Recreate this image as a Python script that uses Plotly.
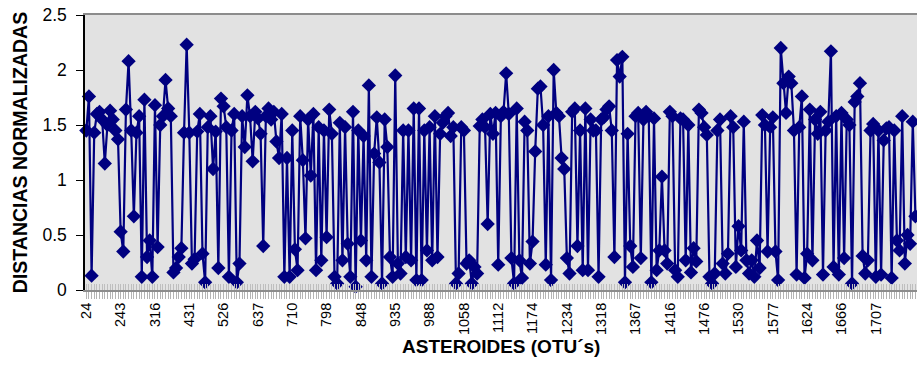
import plotly.graph_objects as go

# ---- data -------------------------------------------------------------
tick_labels = ["24", "243", "316", "431", "526", "637", "710", "798", "848",
               "935", "988", "1058", "1112", "1174", "1234", "1318", "1367",
               "1416", "1476", "1530", "1577", "1624", "1666", "1707"]
label_step = 13  # one label every 13 asteroids

seg1 = [1.45, 1.76, 0.13, 1.43, 1.6, 1.62, 1.55, 1.15, 1.5, 1.63, 1.55, 1.45, 1.37,
        0.53, 0.35, 1.64, 2.08, 1.45, 0.67, 1.43, 1.58, 0.12, 1.73, 0.3, 0.45, 0.12,
        1.68, 0.39, 1.5, 1.58, 1.91, 1.65, 1.58, 0.16, 0.2, 0.3, 0.38, 1.43, 2.23,
        1.43, 0.24, 0.28, 1.44, 1.6, 0.33, 0.07, 1.48, 1.58, 1.1, 1.44, 0.2, 1.74,
        1.67, 1.48, 0.12, 1.45, 1.6, 0.07, 0.24, 1.58, 1.3, 1.77, 1.58, 1.17]
seg2 = [1.62, 1.56, 1.42, 0.40, 1.58, 1.65, 1.55, 1.62, 1.35, 1.2, 1.6, 0.12, 1.2,
        0.12, 1.45, 0.37, 0.18, 1.58, 1.18, 0.47, 1.55, 1.04, 1.6, 0.18, 1.48, 0.27,
        1.45, 0.48, 1.64, 1.42, 0.12, 0.06, 1.52, 0.27, 1.48, 0.42, 0.12, 1.62, 0.03,
        1.45, 0.45, 1.4, 0.27, 1.86, 0.12, 1.24, 1.57, 1.16, 0.06, 1.55, 1.3, 0.3,
        0.12, 1.95, 0.24, 0.15, 1.45, 0.3, 1.45, 0.27, 1.65, 0.09]
seg3 = [1.65, 0.09, 1.45, 0.36, 1.48, 0.27, 1.58, 0.3, 1.42, 1.52, 1.58, 1.61, 1.4,
        1.48, 0.06, 0.15, 1.48, 1.45, 0.24, 0.27, 0.06, 0.21, 0.15, 1.49, 1.55, 1.48,
        0.6, 1.6, 1.42, 1.61, 0.23, 1.58, 1.62, 1.97, 1.6, 0.29, 0.06, 1.65, 0.27,
        0.11, 1.53, 1.45, 0.24, 0.44, 1.26, 1.83, 1.85, 1.5, 0.23, 1.58, 0.09, 2.0,
        1.61, 1.58, 1.2, 1.1, 0.29, 0.15, 1.62, 1.65, 0.4, 1.45, 0.18]
seg4 = [1.65, 0.18, 1.55, 1.45, 1.45, 0.12, 1.55, 1.57, 1.64, 1.67, 1.45, 0.3, 2.09,
        1.94, 2.12, 0.07, 1.42, 0.4, 0.21, 1.58, 1.61, 0.29, 1.55, 1.62, 1.58, 0.07,
        1.56, 0.18, 0.36, 1.03, 0.36, 0.24, 1.62, 1.58, 0.18, 0.12, 1.56, 1.55, 0.27,
        1.5, 0.16, 0.38, 0.26, 1.64, 1.61, 1.48, 1.41, 0.12, 0.06, 0.15, 1.45, 1.55,
        0.24, 0.15, 0.33, 1.58, 1.48, 0.21, 0.58, 0.36, 1.53, 0.27, 0.15]
seg5 = [0.27, 0.12, 0.45, 0.2, 1.59, 1.5, 0.35, 1.48, 1.57, 0.35, 0.09, 2.2, 1.88,
        1.61, 1.94, 1.88, 1.45, 0.14, 1.48, 1.76, 0.11, 0.33, 1.64, 0.27, 1.55, 1.42,
        1.62, 0.14, 1.45, 1.53, 2.17, 0.21, 1.58, 0.14, 1.61, 0.29, 1.55, 1.5, 0.06,
        1.71, 1.76, 1.88, 0.31, 0.15, 0.27, 1.45, 1.51, 0.12, 1.45, 0.14, 1.36, 1.47,
        1.48, 0.11, 1.45, 0.45, 0.36, 1.58, 0.24, 0.5, 0.42, 1.53, 0.67]

distances = seg1 + seg2 + seg3 + seg4 + seg5
x_index = list(range(len(distances)))
tick_vals = [i * label_step for i in range(len(tick_labels))]
x_title = "ASTEROIDES (OTU´s)"
y_title = "DISTANCIAS NORMALIZADAS"

# ---- figure -------------------------------------------------------------
NAVY = "#000080"
fig = go.Figure()
fig.add_trace(go.Scatter(
    x=x_index, y=distances, mode="lines+markers",
    line=dict(color=NAVY, width=2.2),
    marker=dict(symbol="diamond", size=11, color=NAVY),
    cliponaxis=False, showlegend=False, hoverinfo="y",
))
# helper trace for the overlay axis carrying the inner half of the tick band
fig.add_trace(go.Scatter(x=[0], y=[0], xaxis="x2", mode="markers",
                         marker=dict(size=1, opacity=0), showlegend=False,
                         hoverinfo="skip"))

xr = [-0.5, 314.6]
fig.update_layout(
    width=917, height=383,
    margin=dict(l=85, r=0, t=15, b=93),
    paper_bgcolor="white", plot_bgcolor="#E2E2E2",
    font=dict(family="Liberation Sans, Arial, sans-serif", color="black"),
    xaxis=dict(
        range=xr, tickmode="array", tickvals=tick_vals, ticktext=tick_labels,
        tickangle=-90, tickfont=dict(size=14.5), ticklabelstandoff=-2,
        ticks="outside", ticklen=7, tickcolor="#B4B4B4", tickwidth=1,
        minor=dict(dtick=1, tick0=0, ticks="outside", ticklen=7,
                   tickcolor="#B4B4B4", tickwidth=1, showgrid=False),
        showgrid=False, zeroline=False,
        showline=True, linecolor="#8C8C8C", linewidth=2, mirror=True,
    ),
    xaxis2=dict(
        range=xr, overlaying="x", anchor="y", side="bottom",
        tickmode="linear", tick0=0, dtick=1, ticks="inside", ticklen=6,
        tickcolor="#BEBEBE", tickwidth=1, showticklabels=False,
        showgrid=False, zeroline=False, showline=False,
    ),
    yaxis=dict(
        range=[0, 2.5], tickmode="linear", tick0=0, dtick=0.5,
        tickfont=dict(size=17.5), ticks="outside", ticklen=7,
        tickcolor="black", tickwidth=1, ticklabelstandoff=6,
        showgrid=False, zeroline=False,
        showline=True, linecolor="black", linewidth=1.5,
        title=dict(text=y_title,
                   font=dict(size=19.5, weight="bold"), standoff=10),
    ),
    annotations=[dict(
        text=x_title, xref="paper", yref="paper", x=0.5, y=0,
        xanchor="center", yanchor="middle", yshift=-56, showarrow=False,
        font=dict(size=19, weight="bold"),
    )],
)

fig.write_html("out.html")
